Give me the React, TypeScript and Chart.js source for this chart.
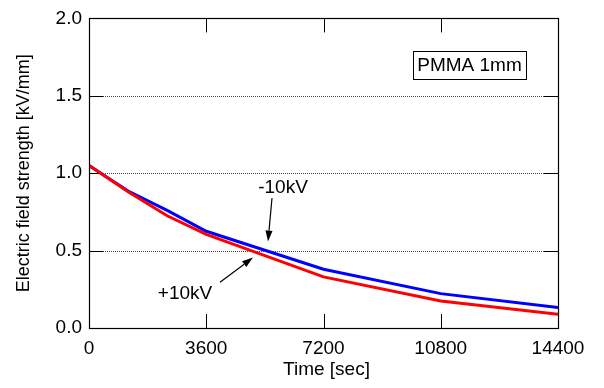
import React, { useEffect, useRef } from "react";
import { Chart, registerables } from "chart.js";

Chart.register(...registerables);

const timeSec = [0, 1200, 2400, 3600, 7200, 10800, 14400];
const plus10kV = [1.05, 0.88, 0.725, 0.605, 0.33, 0.175, 0.088];
const minus10kV = [1.05, 0.885, 0.76, 0.625, 0.38, 0.222, 0.133];
const xTicks = [0, 3600, 7200, 10800, 14400];
const yTicks = [0.0, 0.5, 1.0, 1.5, 2.0];

const FONT = "'Liberation Sans', Arial, sans-serif";

const framePlugin = {
  id: "frame",
  beforeDatasetsDraw(chart: any) {
    const { ctx, chartArea: a, scales } = chart;
    const xs = scales.x;
    const ys = scales.y;
    const tl = 14;
    ctx.save();
    ctx.strokeStyle = "#444";
    ctx.lineWidth = 1;
    ctx.setLineDash([1, 1]);
    for (const v of [0.5, 1.0, 1.5]) {
      const y = Math.round(ys.getPixelForValue(v)) + 0.5;
      ctx.beginPath();
      ctx.moveTo(a.left + tl, y);
      ctx.lineTo(a.right - tl, y);
      ctx.stroke();
    }
    ctx.setLineDash([]);
    ctx.strokeStyle = "#000";
    for (const v of yTicks) {
      const y = Math.round(ys.getPixelForValue(v)) + 0.5;
      ctx.beginPath();
      ctx.moveTo(a.left, y);
      ctx.lineTo(a.left + tl, y);
      ctx.moveTo(a.right, y);
      ctx.lineTo(a.right - tl, y);
      ctx.stroke();
    }
    for (const v of xTicks) {
      const x = Math.round(xs.getPixelForValue(v)) + 0.5;
      ctx.beginPath();
      ctx.moveTo(x, a.bottom);
      ctx.lineTo(x, a.bottom - tl);
      ctx.moveTo(x, a.top);
      ctx.lineTo(x, a.top + tl);
      ctx.stroke();
    }
    ctx.restore();
  },
  afterDatasetsDraw(chart: any) {
    const { ctx, chartArea: a, scales } = chart;
    const xs = scales.x;
    const ys = scales.y;
    ctx.save();
    ctx.strokeStyle = "#000";
    ctx.lineWidth = 1.2;
    ctx.strokeRect(Math.round(a.left) + 0.5, Math.round(a.top) + 0.5, Math.round(a.right - a.left), Math.round(a.bottom - a.top));

    ctx.fillStyle = "#000";
    ctx.font = `19px ${FONT}`;
    ctx.textAlign = "center";
    ctx.textBaseline = "middle";

    ctx.fillText("Time [sec]", (a.left + a.right) / 2 + 3, 370);
    ctx.save();
    ctx.translate(24, (a.top + a.bottom) / 2);
    ctx.rotate(-Math.PI / 2);
    ctx.font = `18px ${FONT}`;
    ctx.fillText("Electric field strength [kV/mm]", 0, 0);
    ctx.restore();

    const arrow = (x1: number, y1: number, x2: number, y2: number) => {
      const p1 = { x: xs.getPixelForValue(x1), y: ys.getPixelForValue(y1) };
      const p2 = { x: xs.getPixelForValue(x2), y: ys.getPixelForValue(y2) };
      const ang = Math.atan2(p2.y - p1.y, p2.x - p1.x);
      const hl = 11;
      const hw = 3.5;
      const bx = p2.x - hl * Math.cos(ang);
      const by = p2.y - hl * Math.sin(ang);
      ctx.lineWidth = 1.2;
      ctx.beginPath();
      ctx.moveTo(p1.x, p1.y);
      ctx.lineTo(bx, by);
      ctx.stroke();
      ctx.beginPath();
      ctx.moveTo(p2.x, p2.y);
      ctx.lineTo(bx + hw * Math.sin(ang), by - hw * Math.cos(ang));
      ctx.lineTo(bx - hw * Math.sin(ang), by + hw * Math.cos(ang));
      ctx.closePath();
      ctx.fill();
    };

    ctx.fillText("-10kV", xs.getPixelForValue(5957), ys.getPixelForValue(0.904));
    arrow(5619, 0.84, 5496, 0.558);
    ctx.fillText("+10kV", xs.getPixelForValue(2948), ys.getPixelForValue(0.218));
    arrow(4022, 0.295, 5035, 0.455);

    const cx = xs.getPixelForValue(11683);
    const cy = ys.getPixelForValue(1.699);
    const label = "PMMA 1mm";
    const w = ctx.measureText(label).width;
    ctx.lineWidth = 1;
    ctx.strokeRect(Math.round(cx - w / 2 - 4) + 0.5, Math.round(cy - 14) + 0.5, Math.round(w + 8), 28);
    ctx.fillText(label, cx, cy + 1);
    ctx.restore();
  },
};

export default function App() {
  const ref = useRef<HTMLCanvasElement>(null);
  useEffect(() => {
    if (!ref.current) return;
    const chart = new Chart(ref.current, {
      type: "line",
      data: {
        datasets: [
          {
            label: "+10kV",
            data: timeSec.map((t, i) => ({ x: t, y: plus10kV[i] })),
            borderColor: "#ff0000",
            borderWidth: 3,
            pointRadius: 0,
            tension: 0,
          },
          {
            label: "-10kV",
            data: timeSec.map((t, i) => ({ x: t, y: minus10kV[i] })),
            borderColor: "#0000ff",
            borderWidth: 3,
            pointRadius: 0,
            tension: 0,
          },
        ],
      },
      options: {
        animation: false,
        responsive: false,
        layout: { padding: { top: 16, right: 46, left: 0, bottom: 0 } },
        plugins: { legend: { display: false }, tooltip: { enabled: false } },
        scales: {
          x: {
            type: "linear",
            min: 0,
            max: 14400,
            afterBuildTicks: (s: any) => {
              s.ticks = xTicks.map((v) => ({ value: v }));
            },
            afterFit: (s: any) => {
              s.height = 60;
            },
            grid: { display: false, drawTicks: false },
            border: { display: false },
            ticks: {
              color: "#000",
              padding: 9,
              maxRotation: 0,
              autoSkip: false,
              font: { family: FONT, size: 19 },
              callback: (v: any) => String(v),
            },
          },
          y: {
            type: "linear",
            min: 0,
            max: 2,
            afterBuildTicks: (s: any) => {
              s.ticks = yTicks.map((v) => ({ value: v }));
            },
            afterFit: (s: any) => {
              s.width = 89;
            },
            grid: { display: false, drawTicks: false },
            border: { display: false },
            ticks: {
              color: "#000",
              padding: 7,
              autoSkip: false,
              font: { family: FONT, size: 19 },
              callback: (v: any) => Number(v).toFixed(1),
            },
          },
        },
      },
      plugins: [framePlugin],
    });
    return () => chart.destroy();
  }, []);
  return (
    <div style={{ position: "fixed", left: 0, top: 0, width: 604, height: 388, background: "#fff" }}>
      <canvas ref={ref} width={604} height={388} />
    </div>
  );
}
